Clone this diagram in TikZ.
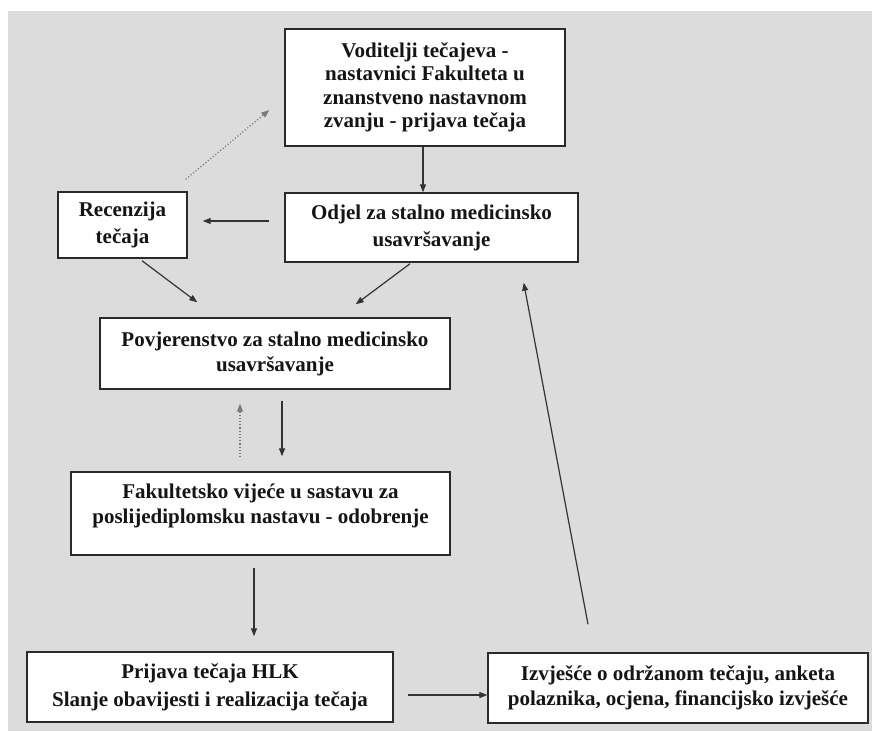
\documentclass[tikz,border=0pt]{standalone}
\usepackage{fontspec}
\setmainfont{Liberation Serif}
\usetikzlibrary{arrows.meta,calc}
\definecolor{bg}{HTML}{DCDCDC}
\definecolor{boxline}{HTML}{2A2A2A}
\definecolor{arrline}{HTML}{333333}
\definecolor{arrlight}{HTML}{7A7A7A}
\definecolor{txt}{HTML}{151515}
\begin{document}
\begin{tikzpicture}[x=1pt,y=-1pt,
  box/.style={draw=boxline, fill=white, line width=1.4pt, align=center, inner sep=0pt,
    font=\fontsize{21}{25}\selectfont\bfseries, text=txt},
  arr/.style={draw=arrline, line width=1.2pt, -{Triangle[length=8pt,width=6pt]}},
  dotarr/.style={arr, draw=arrlight, dotted}]
\useasboundingbox (0,0) rectangle (872,731);
\fill[white] (0,0) rectangle (872,731);
\fill[bg] (8,11) rectangle (872,731);

\node[box, minimum width=280pt, minimum height=117pt, font=\fontsize{21}{23.5}\selectfont\bfseries]
  (vod) at (425,87.5) {Voditelji tečajeva -\\nastavnici Fakulteta u\\znanstveno nastavnom\\zvanju - prijava tečaja};
\node[box, minimum width=129pt, minimum height=66pt, font=\fontsize{21}{27}\selectfont\bfseries]
  (rec) at (122.5,225) {Recenzija\\tečaja};
\node[box, minimum width=293pt, minimum height=69pt, font=\fontsize{21}{27}\selectfont\bfseries]
  (odj) at (431.5,227.5) {Odjel za stalno medicinsko\\usavršavanje};
\node[box, minimum width=350pt, minimum height=71pt]
  (pov) at (275,353.5) {Povjerenstvo za stalno medicinsko\\usavršavanje};
\node[box, minimum width=379pt, minimum height=83pt]
  (fak) at (260.5,513.5) {Fakultetsko vijeće u sastavu za\\poslijediplomsku nastavu - odobrenje\\[-6pt]\mbox{}};
\node[box, minimum width=366pt, minimum height=70pt, font=\fontsize{21}{28}\selectfont\bfseries]
  (pri) at (210,687) {Prijava tečaja HLK\\Slanje obavijesti i realizacija tečaja};
\node[box, minimum width=380pt, minimum height=70pt]
  (izv) at (678,688) {Izvješće o održanom tečaju, anketa\\polaznika, ocjena, financijsko izvješće};

\draw[arr] ($(vod.south)+(-2,0)$) -- ($(odj.north)+(-8.5,0)$);
\draw[arr] ($(odj.west)+(-15,-6.5)$) -- ($(rec.east)+(15,-4)$);
\draw[dotarr] ($(rec.north east)+(-2,-12)$) -- ($(vod.west)+(-15,22.5)$);
\draw[arr] ($(rec.south)+(19.5,2)$) -- ($(pov.north west)+(98,-15)$);
\draw[arr] ($(odj.south)+(-21.5,1)$) -- ($(pov.north east)+(-95,-13)$);
\draw[arr] ($(izv.north)+(-90,-28)$) -- ($(odj.south east)+(-55,20)$);
\draw[arr] ($(pov.south)+(7,11)$) -- ($(fak.north)+(21.5,-15)$);
\draw[dotarr] ($(fak.north)+(-20.5,-14)$) -- ($(pov.south)+(-35,14)$);
\draw[arr] ($(fak.south)+(-6.5,12)$) -- ($(pri.north)+(44,-15)$);
\draw[arr] ($(pri.east)+(14,8)$) -- ($(izv.west)+(0,7)$);
\end{tikzpicture}
\end{document}
